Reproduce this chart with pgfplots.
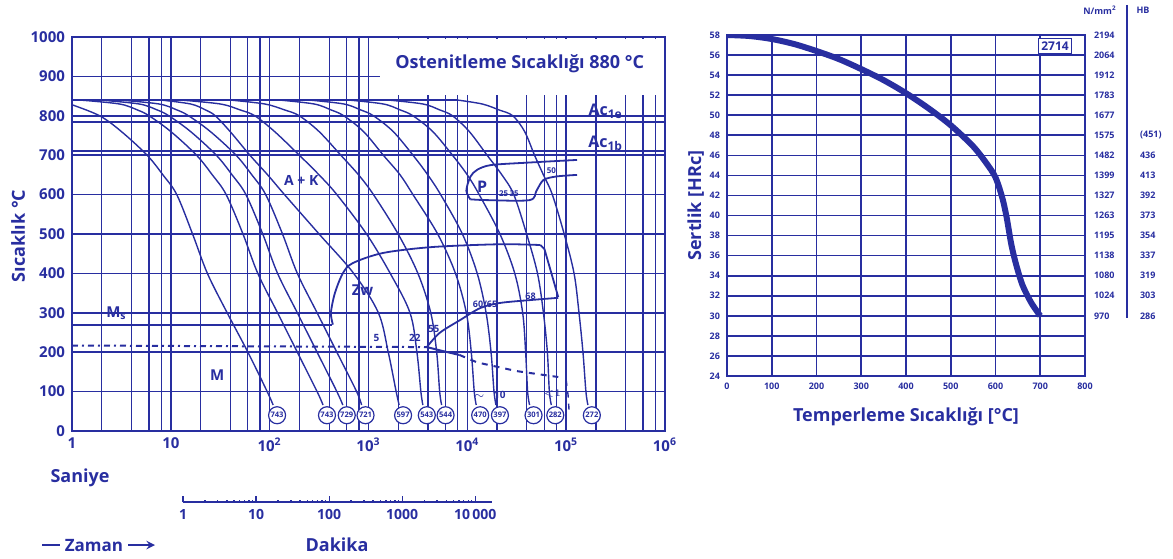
\documentclass[border=0pt]{standalone}
\usepackage{fontspec}
\setmainfont{Open Sans}
\usepackage{pgfplots}
\pgfplotsset{compat=1.18}
\definecolor{ink}{RGB}{40,46,160}

\begin{document}
\begin{tikzpicture}[font=\bfseries, text=ink]
\path[use as bounding box] (0,0) rectangle (586.5pt,279pt);

% ---------------- CCT diagram (x in log10 seconds) ----------------
\begin{axis}[
  at={(36pt,63.5pt)}, anchor=south west,
  width=296.5pt, height=197pt, scale only axis,
  xmin=0, xmax=6, ymin=0, ymax=1000,
  xtick={0,...,6},
  xticklabels={1,10,10\textsuperscript{2},10\textsuperscript{3},10\textsuperscript{4},10\textsuperscript{5},10\textsuperscript{6}},
  minor xtick={0.301,0.602,0.778,0.903,1.301,1.602,1.778,1.903,2.301,2.602,2.778,2.903,3.301,3.602,3.778,3.903,4.301,4.602,4.778,4.903,5.301,5.602,5.778,5.903},
  ytick={0,100,...,1000},
  /pgf/number format/1000 sep={},
  /pgf/number format/assume math mode=true,
  grid=both,
  major grid style={ink, line width=0.8pt},
  minor grid style={ink, line width=0.65pt},
  axis line style={ink, line width=0.9pt},
  major tick length=0pt, minor tick length=0pt,
  ticklabel style={font=\bfseries\fontsize{7.5}{8}\selectfont, text=ink},
  clip=false,
]
% title area
\fill[white] (axis cs:3.12,853) rectangle (axis cs:5.985,995);
\draw[ink, line width=0.9pt] (axis cs:3.0,1000) -- (axis cs:6,1000) -- (axis cs:6,850);
\node[font=\bfseries\fontsize{9}{10}\selectfont] at (axis cs:4.53,931) {Ostenitleme Sıcaklığı 880 °C};

% Ac lines, Ms line, martensite boundary
\addplot[ink, line width=0.9pt] coordinates {(0,785) (6,785)};
\addplot[ink, line width=0.9pt] coordinates {(0,710) (6,710)};
\addplot[ink, line width=1pt] coordinates {(0,270) (2.63,270)};
\addplot[ink, line width=1pt, dash dot] coordinates {(0,217) (3.59,213)};
\addplot[ink, line width=1pt] coordinates {(3.59,213) (3.75,203) (3.92,193)};
\addplot[ink, line width=1pt, dashed] coordinates {(3.92,193) (4.1,174) (4.5,152) (4.92,137)};
\addplot[ink, line width=0.7pt, dashed] coordinates {(5.0,130) (5.02,90) (5.03,50)};

% cooling curves (common start at 840 degC)
\addplot[ink, line width=1pt] coordinates {(0,840) (3.9,840)};
\pgfplotsset{cool/.style={ink, line width=0.7pt, smooth, tension=0.55}}
\addplot[cool] coordinates {(0,828) (0.28,800) (0.5,760) (0.76,700) (0.92,650) (1.06,600) (1.22,500) (1.37,400) (1.57,300) (1.78,200) (1.975,100) (2.035,66)};
\addplot[cool] coordinates {(0.08,840) (0.48,830) (0.66,815) (0.78,800) (1.0,760) (1.26,700) (1.42,650) (1.56,600) (1.73,500) (1.88,400) (2.08,300) (2.28,200) (2.48,100) (2.54,66)};
\addplot[cool] coordinates {(0.28,840) (0.68,830) (0.86,815) (0.98,800) (1.2,760) (1.46,700) (1.62,650) (1.76,600) (1.93,500) (2.08,400) (2.28,300) (2.48,200) (2.68,100) (2.74,66)};
\addplot[cool] coordinates {(0.48,840) (0.88,830) (1.06,815) (1.18,800) (1.40,760) (1.66,700) (1.82,650) (1.96,600) (2.13,500) (2.28,400) (2.48,300) (2.68,200) (2.88,100) (2.93,66)};
\addplot[cool] coordinates {(0.9,840) (1.2,830) (1.35,815) (1.45,800) (1.6,760) (1.8,700) (1.98,650) (2.15,600) (2.5,500) (2.85,400) (3.1,300) (3.2,200) (3.28,100) (3.31,66)};
\addplot[cool] coordinates {(1.1,840) (1.5,830) (1.7,815) (1.85,800) (2.05,760) (2.3,700) (2.5,650) (2.68,600) (2.98,500) (3.22,400) (3.42,300) (3.49,200) (3.53,100) (3.55,66)};
\addplot[cool] coordinates {(1.6,840) (1.95,830) (2.15,815) (2.3,800) (2.5,760) (2.72,700) (2.9,650) (3.05,600) (3.3,500) (3.5,400) (3.63,300) (3.69,200) (3.72,100) (3.74,66)};
\addplot[cool] coordinates {(2.1,840) (2.45,830) (2.62,815) (2.75,800) (2.95,760) (3.15,700) (3.32,650) (3.45,600) (3.7,500) (3.88,400) (3.99,300) (4.04,200) (4.07,100) (4.09,66)};
\addplot[cool] coordinates {(2.4,840) (2.75,830) (2.92,815) (3.05,800) (3.25,760) (3.45,700) (3.6,650) (3.73,600) (3.95,500) (4.1,400) (4.19,300) (4.24,200) (4.27,100) (4.29,66)};
\addplot[cool] coordinates {(2.8,840) (3.15,830) (3.32,815) (3.45,800) (3.65,760) (3.85,700) (4.0,650) (4.12,600) (4.33,500) (4.48,400) (4.56,300) (4.59,200) (4.61,100) (4.63,66)};
\addplot[cool] coordinates {(3.2,840) (3.55,830) (3.72,815) (3.85,800) (4.02,760) (4.2,700) (4.35,650) (4.47,600) (4.6,500) (4.71,400) (4.77,300) (4.81,200) (4.83,100) (4.85,66)};
\addplot[cool] coordinates {(3.9,840) (4.15,830) (4.32,815) (4.46,800) (4.58,760) (4.68,700) (4.77,650) (4.86,600) (4.98,500) (5.08,400) (5.13,300) (5.17,200) (5.2,100) (5.22,66)};

% bainite (Zw) region
\addplot[ink, line width=0.9pt, smooth, tension=0.5] coordinates {(2.64,270) (2.62,300) (2.66,350) (2.74,400) (2.84,426) (3.15,452) (3.65,467) (4.33,474) (4.74,472)};
\addplot[ink, line width=0.9pt] coordinates {(4.74,472) (4.78,462) (4.92,340)};
\addplot[ink, line width=0.9pt, smooth, tension=0.5] coordinates {(3.59,213) (3.72,249) (3.93,282) (4.13,312) (4.33,325) (4.67,333) (4.92,338)};

% pearlite region
\addplot[ink, line width=0.9pt, smooth, tension=0.5] coordinates {(4.03,588) (3.99,610) (4.03,645) (4.1,663) (4.24,675) (4.6,681) (5.11,688)};
\addplot[ink, line width=0.9pt, smooth, tension=0.5] coordinates {(4.03,588) (4.2,586) (4.63,586) (4.7,610) (4.77,637) (4.9,646) (5.11,650)};

% hardness in circles
\addplot[only marks, mark=none, nodes near coords, point meta=explicit symbolic,
  every node near coord/.append style={anchor=center, circle, draw=ink, line width=0.6pt,
    inner sep=0pt, minimum size=8.5pt, fill=white, font=\bfseries\fontsize{3.8}{4}\selectfont, text=ink}]
  coordinates {(2.075,40)[743] (2.58,40)[743] (2.78,40)[729] (2.97,40)[721] (3.35,40)[597] (3.59,40)[543]
               (3.78,40)[544] (4.13,40)[470] (4.33,40)[397] (4.67,40)[301] (4.89,40)[282] (5.26,40)[272]};

% labels in the diagram
\node[font=\bfseries\fontsize{7}{8}\selectfont] at (axis cs:2.32,637) {A + K};
\node[font=\bfseries\fontsize{8}{8}\selectfont] at (axis cs:4.15,620) {P};
\node[font=\bfseries\fontsize{4}{4}\selectfont] at (axis cs:4.42,602) {25\,35};
\node[font=\bfseries\fontsize{4}{4}\selectfont] at (axis cs:4.85,662) {50};
\node[font=\bfseries\fontsize{7.5}{8}\selectfont] at (axis cs:2.94,358) {Zw};
\node[font=\bfseries\fontsize{7.5}{8}\selectfont] at (axis cs:1.47,142) {M};
\node[font=\bfseries\fontsize{7.5}{8}\selectfont] at (axis cs:0.45,300) {M\textsubscript{s}};
\node[font=\bfseries\fontsize{5}{5}\selectfont] at (axis cs:3.08,236) {5};
\node[font=\bfseries\fontsize{5}{5}\selectfont] at (axis cs:3.47,236) {22};
\node[font=\bfseries\fontsize{5}{5}\selectfont] at (axis cs:3.66,258) {55};
\node[font=\bfseries\fontsize{4.5}{5}\selectfont] at (axis cs:4.18,322) {60/65};
\node[font=\bfseries\fontsize{4.5}{5}\selectfont] at (axis cs:4.64,342) {68};
\node[font=\bfseries\fontsize{5}{5}\selectfont] at (axis cs:4.12,88) {$\sim$};
\node[font=\bfseries\fontsize{5}{5}\selectfont] at (axis cs:4.33,92) {10};
\node[font=\bfseries\fontsize{5}{5}\selectfont] at (axis cs:4.86,95) {${<}1$};
\node[font=\bfseries\fontsize{8}{9}\selectfont] at (axis cs:5.4,812) {Ac\textsubscript{1e}};
\node[font=\bfseries\fontsize{8}{9}\selectfont] at (axis cs:5.4,730) {Ac\textsubscript{1b}};
\end{axis}

% minutes scale
\begin{axis}[
  at={(91.5pt,28pt)}, anchor=south west,
  width=154.5pt, height=8pt, scale only axis,
  xmode=log, xmin=1, xmax=16982, ymin=0, ymax=1,
  axis x line*=bottom, axis y line=none,
  xtick={1,10,100,1000,10000},
  xticklabels={1,10,100,1000,10\,000},
  tick align=inside,
  major tick length=3pt, minor tick length=1.2pt,
  axis line style={ink, line width=0.9pt},
  tick style={ink, line width=0.6pt},
  ticklabel style={font=\bfseries\fontsize{7}{8}\selectfont, text=ink},
]
\addplot[draw=none] coordinates {(1,0) (10,0)};
\end{axis}

\node[font=\bfseries\fontsize{9}{10}\selectfont] at (40pt,40pt) {Saniye};
\node[font=\bfseries\fontsize{9}{10}\selectfont] at (168.5pt,6.5pt) {Dakika};
\draw[ink, line width=0.9pt] (21pt,6.5pt) -- (30pt,6.5pt);
\node[font=\bfseries\fontsize{8.5}{10}\selectfont] at (47pt,6pt) {Zaman};
\draw[ink, line width=0.9pt, -stealth] (64pt,6.5pt) -- (77.5pt,6.5pt);
\node[font=\bfseries\fontsize{9}{10}\selectfont, rotate=90] at (9pt,161pt) {Sıcaklık °C};

% ---------------- tempering diagram ----------------
\begin{axis}[
  at={(363.5pt,91pt)}, anchor=south west,
  width=179pt, height=170.5pt, scale only axis,
  xmin=0, xmax=800, ymin=24, ymax=58,
  xtick={0,100,...,800}, ytick={24,26,...,58},
  /pgf/number format/assume math mode=true,
  grid=major, major grid style={ink, line width=0.8pt},
  axis line style={ink, line width=0.9pt},
  major tick length=0pt,
  ticklabel style={font=\bfseries\fontsize{4.5}{5}\selectfont, text=ink},
  xlabel={Temperleme Sıcaklığı [°C]},
  ylabel={Sertlik [HRc]},
  label style={font=\bfseries\fontsize{9}{10}\selectfont, text=ink},
  xlabel style={yshift=-2pt},
  ylabel style={yshift=-4pt},
]
\addplot[ink, line width=3pt, smooth, tension=0.5] coordinates {
  (0,58) (50,57.9) (100,57.6) (150,57.1) (200,56.4) (250,55.6) (300,54.6) (350,53.5)
  (400,52.2) (450,50.7) (500,49.0) (550,46.9) (580,45.2) (600,43.8) (615,41.8) (625,39.8)
  (635,37.2) (645,35.3) (660,33.1) (680,31.3) (700,30.0)};
\node[draw=ink, line width=0.7pt, fill=white, inner sep=1.5pt, font=\bfseries\fontsize{6}{7}\selectfont] at (axis cs:733,56.9) {2714};
\end{axis}

% tensile strength column
\begin{axis}[
  at={(363.5pt,91pt)}, anchor=south west,
  width=179pt, height=170.5pt, scale only axis,
  xmin=0, xmax=800, ymin=24, ymax=58,
  axis x line=none, axis y line*=right,
  y axis line style={draw=none},
  ytick={30,32,...,58},
  yticklabels={970,1024,1080,1138,1195,1263,1327,1399,1482,1575,1677,1783,1912,2064,2194},
  major tick length=0pt,
  yticklabel style={anchor=west, xshift=1pt, font=\bfseries\fontsize{4.5}{5}\selectfont, text=ink},
]
\addplot[draw=none] coordinates {(0,30) (1,30)};
\end{axis}

% Brinell column
\begin{axis}[
  at={(363.5pt,91pt)}, anchor=south west,
  width=179pt, height=170.5pt, scale only axis,
  xmin=0, xmax=800, ymin=24, ymax=58,
  axis x line=none, axis y line*=right,
  y axis line style={draw=none},
  ytick={30,32,...,48},
  yticklabels={286,303,319,337,354,373,392,413,436,(451)},
  major tick length=0pt,
  yticklabel style={anchor=west, xshift=24pt, font=\bfseries\fontsize{4.5}{5}\selectfont, text=ink},
]
\addplot[draw=none] coordinates {(0,30) (1,30)};
\end{axis}

\draw[ink, line width=0.6pt] (563.5pt,276.5pt) -- (563.5pt,120pt);
\node[font=\bfseries\fontsize{4.5}{5}\selectfont] at (550pt,274pt) {N/mm\textsuperscript{2}};
\node[font=\bfseries\fontsize{4.5}{5}\selectfont] at (571.5pt,274pt) {HB};
\end{tikzpicture}
\end{document}
